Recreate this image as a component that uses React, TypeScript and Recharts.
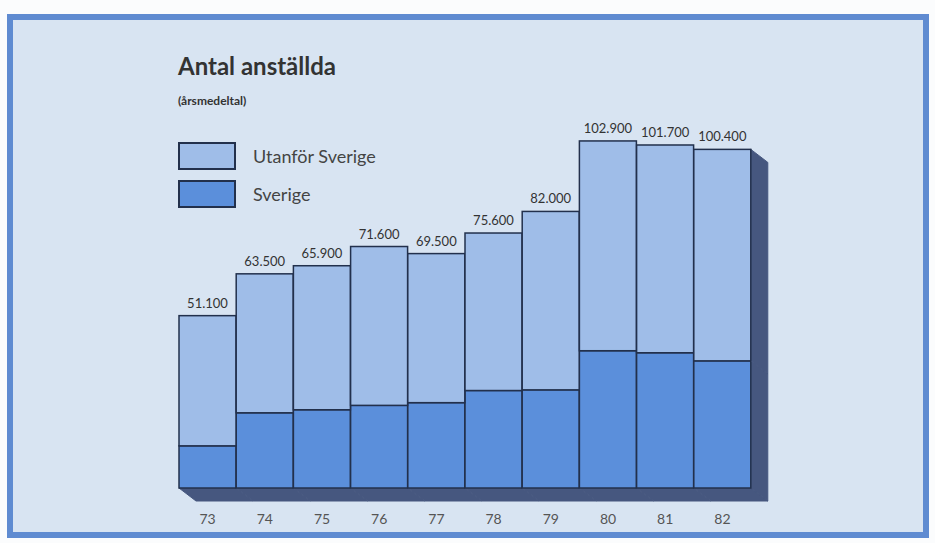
import React from 'react';
import { BarChart, Bar, XAxis, YAxis, LabelList } from 'recharts';

const years = ['73', '74', '75', '76', '77', '78', '79', '80', '81', '82'];
const sverige = [12.5, 22.3, 23.2, 24.5, 25.3, 28.9, 29.1, 40.7, 40.1, 37.7];
const utanfor = [38.6, 41.2, 42.7, 47.1, 44.2, 46.7, 52.9, 62.2, 61.6, 62.7];
const totalLabels = ['51.100', '63.500', '65.900', '71.600', '69.500', '75.600', '82.000', '102.900', '101.700', '100.400'];

const data = years.map((year, i) => ({
  year,
  sverige: sverige[i],
  utanfor: utanfor[i],
  label: totalLabels[i],
}));

const LIGHT = '#9fbde8';
const DARK = '#5b8fdb';
const SHADOW = '#46577f';
const EDGE = '#22304c';
const DX = 17;
const DY = 13;
const LAST = years.length - 1;
const FONT = 'Lato, "Open Sans", sans-serif';

// bottom segment: draws the floor shadow under each bar, plus the side face on the last one
const SverigeShape = (props: any) => {
  const { x, y, width, height, index } = props;
  const bottom = y + height;
  return (
    <g>
      <polygon
        points={`${x},${bottom} ${x + width},${bottom} ${x + width + DX},${bottom + DY} ${x + DX},${bottom + DY}`}
        fill={SHADOW}
        stroke={SHADOW}
        strokeWidth={1}
      />
      {index === LAST && (
        <polygon
          points={`${x + width},${y} ${x + width + DX},${y + DY} ${x + width + DX},${bottom + DY} ${x + width},${bottom}`}
          fill={SHADOW}
          stroke={SHADOW}
          strokeWidth={1}
        />
      )}
      <rect x={x} y={y} width={width} height={height} fill={DARK} stroke={EDGE} strokeWidth={1.5} />
    </g>
  );
};

const UtanforShape = (props: any) => {
  const { x, y, width, height, index } = props;
  return (
    <g>
      {index === LAST && (
        <polygon
          points={`${x + width},${y} ${x + width + DX},${y + DY} ${x + width + DX},${y + height + DY} ${x + width},${y + height}`}
          fill={SHADOW}
          stroke={SHADOW}
          strokeWidth={1}
        />
      )}
      <rect x={x} y={y} width={width} height={height} fill={LIGHT} stroke={EDGE} strokeWidth={1.5} />
    </g>
  );
};

const LegendBox = () => (
  <div style={{ fontFamily: FONT }}>
    {[
      { name: 'Utanför Sverige', color: LIGHT },
      { name: 'Sverige', color: DARK },
    ].map((item) => (
      <div key={item.name} style={{ display: 'flex', alignItems: 'center', height: 28, marginBottom: 10 }}>
        <div style={{ width: 58, height: 28, boxSizing: 'border-box', background: item.color, border: `2px solid ${EDGE}` }} />
        <span style={{ marginLeft: 17, fontSize: 18, color: '#444' }}>{item.name}</span>
      </div>
    ))}
  </div>
);

export default function App() {
  return (
    <div style={{ position: 'absolute', left: 0, top: 0, width: 935, height: 543, background: '#fbfcfd' }}>
      <div
        style={{
          position: 'absolute',
          left: 7,
          top: 14,
          width: 922,
          height: 524,
          boxSizing: 'border-box',
          border: '6px solid #5f8bd1',
          background: '#d8e4f2',
        }}
      />
      <div style={{ position: 'absolute', left: 178, top: 51, fontFamily: FONT, fontWeight: 700, fontSize: 24, color: '#333' }}>
        Antal anställda
      </div>
      <div style={{ position: 'absolute', left: 178, top: 93, fontFamily: FONT, fontWeight: 700, fontSize: 12, color: '#333' }}>
        (årsmedeltal)
      </div>
      <div style={{ position: 'absolute', left: 178, top: 142 }}>
        <LegendBox />
      </div>
      <div style={{ position: 'absolute', left: 0, top: 0 }}>
        <BarChart
          width={935}
          height={543}
          data={data}
          margin={{ top: 117, right: 184, left: 179, bottom: 25 }}
          barCategoryGap={0}
        >
          <XAxis
            dataKey="year"
            axisLine={false}
            tickLine={false}
            height={30}
            tickMargin={20}
            tick={{ fill: '#555', fontSize: 14, fontFamily: FONT }}
          />
          <YAxis hide domain={[0, 110]} />
          <Bar dataKey="sverige" name="Sverige" stackId="a" fill={DARK} shape={SverigeShape} isAnimationActive={false} />
          <Bar dataKey="utanfor" name="Utanför Sverige" stackId="a" fill={LIGHT} shape={UtanforShape} isAnimationActive={false}>
            <LabelList dataKey="label" position="top" offset={8} fill="#333" fontSize={13} fontFamily={FONT} />
          </Bar>
        </BarChart>
      </div>
    </div>
  );
}
